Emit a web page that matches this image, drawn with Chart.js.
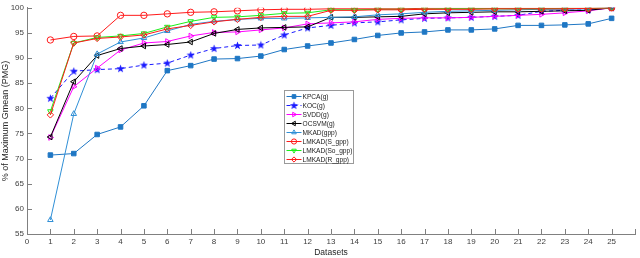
<!DOCTYPE html>
<html>
<head>
<meta charset="utf-8">
<script src="https://cdn.jsdelivr.net/npm/chart.js@4.4.0/dist/chart.umd.min.js"></script>
<style>
    html, body { margin: 0; padding: 0; background: #fff; }
    #contenedor { width: 640px; height: 258px; }
</style>
</head>
<body>
<div id="contenedor"><canvas id="graficoPMG"></canvas></div>
<script>
(function () {

    // Datos
    var datasetsX = [1, 2, 3, 4, 5, 6, 7, 8, 9, 10, 11, 12, 13, 14, 15, 16, 17, 18, 19, 20, 21, 22, 23, 24, 25];

    var kpca = [70.7, 71.0, 74.8, 76.3, 80.5, 87.5, 88.5, 89.8, 89.9, 90.4, 91.7, 92.4, 93.0, 93.7, 94.5, 95.0, 95.2, 95.6, 95.6, 95.8, 96.5, 96.5, 96.6, 96.8, 97.9];
    var koc = [82.0, 87.4, 87.7, 87.9, 88.6, 89.0, 90.6, 91.9, 92.5, 92.6, 94.6, 96.0, 96.5, 97.0, 97.2, 97.6, 97.9, 98.0, 98.1, 98.3, 98.5, 99.3, 99.5, 99.6, 100];
    var svdd = [74.2, 84.3, 88.0, 91.6, 93.0, 93.3, 94.4, 95.1, 95.2, 95.6, 96.0, 96.8, 97.0, 97.2, 97.7, 97.9, 98.0, 98.0, 98.1, 98.3, 98.5, 98.7, 99.0, 99.4, 100];
    var ocsvm = [74.3, 85.3, 90.5, 91.9, 92.4, 92.7, 93.2, 94.9, 95.7, 96.0, 96.1, 96.2, 98.1, 98.1, 98.2, 98.3, 98.8, 99.0, 99.1, 99.2, 99.2, 99.3, 99.4, 99.5, 100];
    var mkad = [57.8, 78.9, 90.8, 93.2, 94.0, 95.4, 96.7, 97.3, 97.7, 97.9, 97.9, 98.0, 98.1, 98.2, 98.6, 98.8, 99.1, 99.3, 99.4, 99.5, 99.6, 99.7, 99.7, 99.8, 100];
    var lmkadS = [93.6, 94.3, 94.4, 98.5, 98.5, 98.8, 99.1, 99.2, 99.4, 99.6, 99.7, 99.7, 99.8, 99.8, 99.8, 99.8, 99.9, 99.9, 99.9, 99.9, 99.9, 99.9, 99.9, 99.9, 100];
    var lmkadSo = [79.4, 93.0, 94.1, 94.4, 94.9, 96.2, 97.3, 98.1, 98.2, 98.5, 98.9, 99.0, 99.6, 99.6, 99.7, 99.7, 99.7, 99.8, 99.8, 99.8, 99.8, 99.8, 99.9, 99.9, 100];
    var lmkadR = [78.7, 93.0, 93.9, 94.2, 94.6, 95.8, 96.5, 97.2, 97.7, 98.1, 98.3, 98.3, 99.5, 99.5, 99.6, 99.6, 99.7, 99.7, 99.7, 99.8, 99.8, 99.8, 99.8, 99.9, 100];

    var xTicks = [0, 26];
    var yTicks = [55, 100, 5];

    var fuente = "'Liberation Sans Narrow', 'Liberation Sans', Arial, sans-serif";

    // Estrella de 5 puntas para KOC
    function crearEstrella(color) {
        var c = document.createElement('canvas');
        c.width = 9; c.height = 9;
        var g = c.getContext('2d');
        g.beginPath();
        for (var i = 0; i < 10; i++) {
            var r = (i % 2 === 0) ? 4.3 : 1.8;
            var a = -Math.PI / 2 + i * Math.PI / 5;
            var px = 4.5 + r * Math.cos(a);
            var py = 4.7 + r * Math.sin(a);
            if (i === 0) g.moveTo(px, py); else g.lineTo(px, py);
        }
        g.closePath();
        g.fillStyle = color;
        g.fill();
        return c;
    }

    function serie(label, data, color, estilo, rot, relleno, dash) {
        return {
            label: label,
            data: datasetsX.map(function (x, i) { return { x: x, y: data[i] }; }),
            borderColor: color,
            backgroundColor: color,
            borderWidth: 1,
            borderDash: dash || [],
            pointStyle: estilo,
            pointRotation: rot,
            pointRadius: 3.2,
            pointBorderWidth: 1,
            pointBorderColor: color,
            pointBackgroundColor: relleno ? color : 'rgba(0,0,0,0)',
            tension: 0
        };
    }

    var series = [
        serie('KPCA(g)', kpca, '#1f77c4', 'rect', 0, true),
        serie('KOC(g)', koc, '#1a1aff', crearEstrella('#1a1aff'), 0, true, [4, 3]),
        serie('SVDD(g)', svdd, '#ff00ff', 'triangle', 90, false),
        serie('OCSVM(g)', ocsvm, '#000000', 'triangle', -90, false),
        serie('MKAD(gpp)', mkad, '#2f8fd6', 'triangle', 0, false),
        serie('LMKAD(S_gpp)', lmkadS, '#ff1a1a', 'circle', 0, false),
        serie('LMKAD(So_gpp)', lmkadSo, '#1aee1a', 'triangle', 180, false),
        serie('LMKAD(R_gpp)', lmkadR, '#ff1a1a', 'rectRot', 0, false)
    ];
    // las ultimas series se dibujan encima
    series.forEach(function (s, i) { s.order = series.length - i; });

    // Marcas de eje hacia adentro
    var marcasInternas = {
        id: 'marcasInternas',
        afterDraw: function (chart) {
            var ctx = chart.ctx;
            var area = chart.chartArea;
            var sx = chart.scales.x, sy = chart.scales.y;
            ctx.save();
            ctx.strokeStyle = '#808080';
            ctx.lineWidth = 1;
            ctx.beginPath();
            for (var v = xTicks[0]; v <= xTicks[1]; v++) {
                var px = Math.round(sx.getPixelForValue(v)) + 0.5;
                ctx.moveTo(px, area.bottom);
                ctx.lineTo(px, area.bottom - 5);
            }
            for (var w = yTicks[0]; w <= yTicks[1]; w += yTicks[2]) {
                var py = Math.round(sy.getPixelForValue(w)) + 0.5;
                ctx.moveTo(area.left, py);
                ctx.lineTo(area.left + 5, py);
            }
            ctx.stroke();
            ctx.restore();
        }
    };

    // Leyenda dentro del area del grafico
    var leyendaInterna = {
        id: 'leyendaInterna',
        afterDraw: function (chart) {
            var ctx = chart.ctx;
            var x0 = 284.5, y0 = 90.5, w = 69, h = 73, paso = 9;
            ctx.save();
            ctx.fillStyle = '#ffffff';
            ctx.fillRect(x0, y0, w, h);
            ctx.strokeStyle = '#9a9a9a';
            ctx.lineWidth = 1;
            ctx.strokeRect(x0, y0, w, h);
            ctx.font = '6.6px ' + fuente;
            ctx.textBaseline = 'middle';
            chart.data.datasets.forEach(function (ds, i) {
                var y = y0 + 6 + i * paso;
                ctx.strokeStyle = ds.borderColor;
                ctx.setLineDash(ds.borderDash);
                ctx.beginPath();
                ctx.moveTo(x0 + 2, y);
                ctx.lineTo(x0 + 17, y);
                ctx.stroke();
                ctx.setLineDash([]);
                ctx.fillStyle = ds.pointBackgroundColor;
                Chart.helpers.drawPoint(ctx, {
                    pointStyle: ds.pointStyle,
                    rotation: ds.pointRotation,
                    radius: 2.6,
                    borderWidth: 1
                }, x0 + 9.5, y);
                ctx.fillStyle = '#222222';
                ctx.fillText(ds.label, x0 + 18, y + 0.5);
            });
            ctx.restore();
        }
    };

    var ctx = document.getElementById('graficoPMG').getContext('2d');
    var grafico = new Chart(ctx, {
        type: 'line',
        data: { datasets: series },
        options: {
            responsive: true,
            maintainAspectRatio: false,
            animation: false,
            layout: { padding: { top: 5, right: 4, left: 0, bottom: 0 } },
            plugins: {
                legend: { display: false },
                tooltip: { enabled: false }
            },
            scales: {
                x: {
                    type: 'linear',
                    min: xTicks[0],
                    max: xTicks[1],
                    afterFit: function (scale) { scale.height = 24; },
                    ticks: {
                        stepSize: 1,
                        autoSkip: false,
                        maxRotation: 0,
                        padding: 3,
                        color: '#404040',
                        font: { family: fuente, size: 8 },
                        callback: function (v) { return v === xTicks[1] ? '' : v; }
                    },
                    grid: { display: false, drawTicks: false },
                    border: { display: true, color: '#808080' },
                    title: {
                        display: true,
                        text: 'Datasets',
                        color: '#262626',
                        font: { family: fuente, size: 8.5 },
                        padding: { top: 0, bottom: 0 }
                    }
                },
                y: {
                    min: yTicks[0],
                    max: yTicks[1],
                    afterFit: function (scale) { scale.width = 27; },
                    ticks: {
                        stepSize: yTicks[2],
                        padding: 3,
                        color: '#404040',
                        font: { family: fuente, size: 8 }
                    },
                    grid: { display: false, drawTicks: false },
                    border: { display: true, color: '#808080' },
                    title: {
                        display: true,
                        text: '% of Maximum Gmean (PMG)',
                        color: '#262626',
                        font: { family: fuente, size: 9 },
                        padding: { top: 0, bottom: 0 }
                    }
                }
            }
        },
        plugins: [marcasInternas, leyendaInterna]
    });

})();
</script>
</body>
</html>
